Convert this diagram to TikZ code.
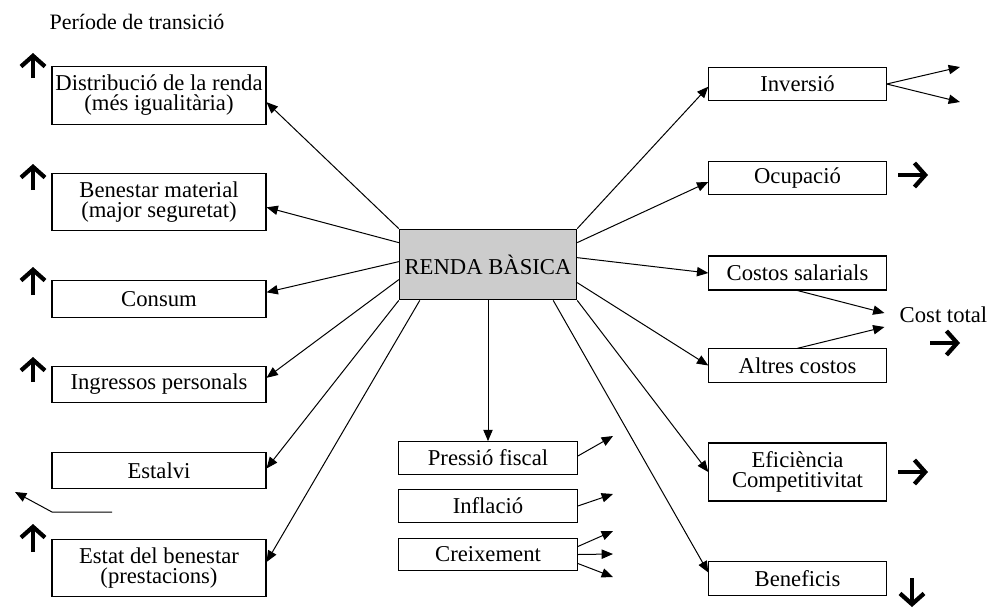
\documentclass[tikz,border=0pt]{standalone}
\usepackage{fontspec}
\setmainfont{Liberation Serif}
\usetikzlibrary{arrows.meta}

\begin{document}
\begin{tikzpicture}[x=0.75pt, y=-0.75pt,
	box/.style={draw, line width=0.8pt, align=center, inner sep=0pt, font=\fontsize{17}{15}\selectfont},
	lbox/.style={box, minimum width=160.5pt},
	rbox/.style={box, minimum width=133pt},
	mbox/.style={box, minimum width=134pt, minimum height=24.5pt},
	link/.style={line width=0.75pt, -{Triangle[length=8.5pt, width=7pt]}},
	bigarrow/.style={line width=3.2pt, -{Straight Barb[length=8pt, width=18pt]}}]
		\useasboundingbox (0,0) rectangle (990,608);
		\node[font=\fontsize{16.5}{13}\selectfont] (titol) at (137,22) {Període de transició};
		\node[box, fill=gray!40, minimum width=133pt, minimum height=53pt] (rb) at (488,264.5) {RENDA BÀSICA};
		\node[lbox, minimum height=43pt] (dist) at (159,95.5) {Distribució de la renda\\(més igualitària)};
		\node[lbox, minimum height=43pt] (ben) at (159,202) {Benestar material\\(major seguretat)};
		\node[lbox, minimum height=27.5pt] (cons) at (159,299) {Consum};
		\node[lbox, minimum height=27.5pt] (ingr) at (159,384.5) {Ingressos personals};
		\node[lbox, minimum height=27.5pt] (estal) at (159,470.5) {Estalvi};
		\node[lbox, minimum height=43pt] (estat) at (159,568) {Estat del benestar\\(prestacions)};
		\node[rbox, minimum height=25pt] (inv) at (797.5,84) {Inversió};
		\node[rbox, minimum height=25pt] (ocup) at (797.5,178) {Ocupació};
		\node[rbox, minimum height=25.5pt] (cost) at (797.5,273) {Costos salarials};
		\node[rbox, minimum height=25pt] (altres) at (797.5,365.5) {Altres costos};
		\node[rbox, minimum height=43.5pt] (efic) at (797.5,472) {Eficiència\\Competitivitat};
		\node[rbox, minimum height=25pt] (benef) at (797.5,578.5) {Beneficis};
		\node[mbox] (press) at (488,458) {Pressió fiscal};
		\node[mbox] (infl) at (488,506) {Inflació};
		\node[mbox] (creix) at (488,554.5) {Creixement};
		\node[font=\fontsize{17}{13}\selectfont, inner xsep=11.25pt, inner ysep=0pt] (ct) at (943.5,315) {Cost total};
		\coordinate (inv1) at (960,67);
		\coordinate (inv2) at (960,102);
		\coordinate (press1) at (613,436);
		\coordinate (infl1) at (613,494);
		\coordinate (creix1) at (613,531);
		\coordinate (creix2) at (613,554);
		\coordinate (creix3) at (613,577);
		\coordinate (e1) at (112,512);
		\coordinate (e2) at (52,512);
		\coordinate (e3) at (15,492);
		\draw[link] (rb.north west) -- ([yshift=-5pt]dist.east);
		\draw[link] ([yshift=-10.5pt]rb.north west) -- ([yshift=-4pt]ben.east);
		\draw[link] ([yshift=-24.75pt]rb.north west) -- ([yshift=5pt]cons.east);
		\draw[link] ([yshift=-38.25pt]rb.north west) -- ([yshift=5pt]ingr.east);
		\draw[link] (rb.south west) -- ([yshift=1.5pt]estal.east);
		\draw[link] ([xshift=15.75pt]rb.south west) -- ([yshift=4.5pt]estat.east);
		\draw[link] (rb.south) -- (press.north);
		\draw[link] (rb.north east) -- ([yshift=-2pt]inv.west);
		\draw[link] ([yshift=-10.5pt]rb.north east) -- ([yshift=-3pt]ocup.west);
		\draw[link] ([yshift=-21.75pt]rb.north east) -- (cost.west);
		\draw[link] ([yshift=-40.5pt]rb.north east) -- (altres.west);
		\draw[link] (rb.south east) -- (efic.west);
		\draw[link] ([xshift=-18pt]rb.south east) -- ([yshift=4.5pt]benef.west);
		\draw[link] (cost.south) -- ([yshift=1.5pt]ct.west);
		\draw[link] (altres.north) -- ([yshift=-9pt]ct.west);
		\draw[link] (inv.east) -- (inv1);
		\draw[link] (inv.east) -- (inv2);
		\draw[link] ([yshift=1.5pt]press.east) -- (press1);
		\draw[link] (infl.east) -- (infl1);
		\draw[link] ([yshift=6pt]creix.east) -- (creix1);
		\draw[link] (creix.east) -- (creix2);
		\draw[link] ([yshift=-6.75pt]creix.east) -- (creix3);
		\draw[link] (e1) -- (e2) -- (e3);
		\draw[bigarrow] (33,78) -- (33,53);
		\draw[bigarrow] (33,190) -- (33,164);
		\draw[bigarrow] (33,295) -- (33,267);
		\draw[bigarrow] (33,382) -- (33,357);
		\draw[bigarrow] (33,552) -- (33,524);
		\draw[bigarrow] (898,175) -- (928,175);
		\draw[bigarrow] (930,343) -- (960,343);
		\draw[bigarrow] (898,472) -- (928,472);
		\draw[bigarrow] (912,578) -- (912,607);
\end{tikzpicture}
\end{document}
